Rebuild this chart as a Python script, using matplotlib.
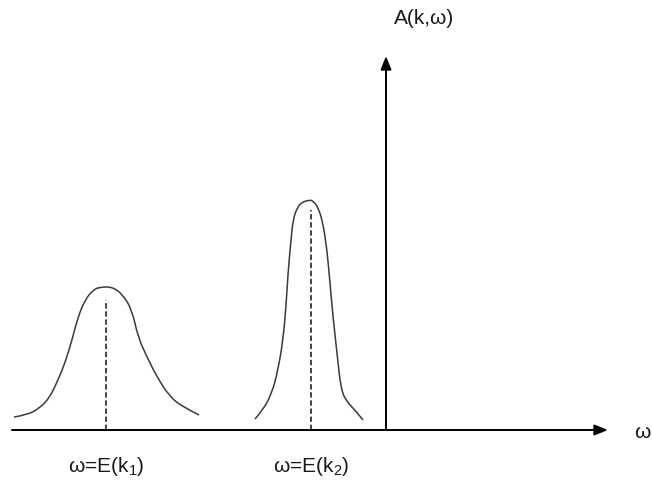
import matplotlib
matplotlib.use("Agg")
import matplotlib.pyplot as plt
from matplotlib.path import Path
from matplotlib.patches import PathPatch

# omega axis runs left->right, A(k, w) runs upward; origin where the two axes meet
peak1_w = [-372, -359, -346, -336, -328, -321, -314, -308, -301, -293, -286, -273,
           -263, -254, -248, -239, -229, -216, -203, -187]
peak1_a = [13, 15, 22, 33, 50, 67, 90, 113, 130, 140, 143, 143,
           135, 120, 93, 73, 53, 33, 23, 15]

peak2_w = [-131, -123, -114, -108, -103, -100, -98, -95, -93, -89, -84, -76,
           -73, -68, -63, -59, -56, -53, -49, -45, -39, -31, -23]
peak2_a = [11, 20, 37, 60, 90, 123, 157, 190, 210, 222, 228, 230,
           229, 223, 207, 180, 147, 113, 77, 40, 28, 20, 10]

centers = [-280, -75]
center_heights = [130, 220]
center_labels = [r"ω=E(k$_1$)", r"ω=E(k$_2$)"]

plt.rcParams["font.family"] = ["Liberation Sans", "DejaVu Sans"]
plt.rcParams["mathtext.fontset"] = "custom"
plt.rcParams["mathtext.rm"] = "Liberation Sans"


def smooth_path(xs, ys):
    # quadratic bezier through the midpoints, the read-off points act as controls
    pts = list(zip(xs, ys))
    verts = [pts[0]]
    codes = [Path.MOVETO]
    for i in range(1, len(pts) - 1):
        mid = ((pts[i][0] + pts[i + 1][0]) / 2, (pts[i][1] + pts[i + 1][1]) / 2)
        if i == len(pts) - 2:
            mid = pts[-1]
        verts += [pts[i], mid]
        codes += [Path.CURVE3, Path.CURVE3]
    return Path(verts, codes)


fig = plt.figure(figsize=(6.52, 4.82), dpi=100)
ax = fig.add_axes([0, 0, 1, 1])
ax.set_xlim(-386, 266)
ax.set_ylim(-52, 430)
ax.axis("off")

for xs, ys in [(peak1_w, peak1_a), (peak2_w, peak2_a)]:
    ax.add_patch(PathPatch(smooth_path(xs, ys), fill=False, edgecolor="#3a3a3a", lw=1.1))

for c, h, lab in zip(centers, center_heights, center_labels):
    ax.plot([c, c], [0, h], color="#111111", linewidth=1.1, linestyle=(0, (3.5, 1.8)))
    ax.text(c, -37, lab, ha="center", va="center", fontsize=15, color="#1a1a1a")

arrow_kw = dict(arrowstyle="-|>,head_length=0.8,head_width=0.32", color="black", lw=1.4,
                shrinkA=0, shrinkB=0)
ax.annotate("", xy=(222, 0), xytext=(-374, 0), arrowprops=arrow_kw)
ax.annotate("", xy=(0, 374), xytext=(0, 0), arrowprops=arrow_kw)

ax.text(38, 412, "A(k,ω)", ha="center", va="center", fontsize=15, color="#1a1a1a")
ax.text(248, -2, "ω", ha="left", va="center", fontsize=15, color="#1a1a1a")

fig.savefig("out.png", dpi=100)
